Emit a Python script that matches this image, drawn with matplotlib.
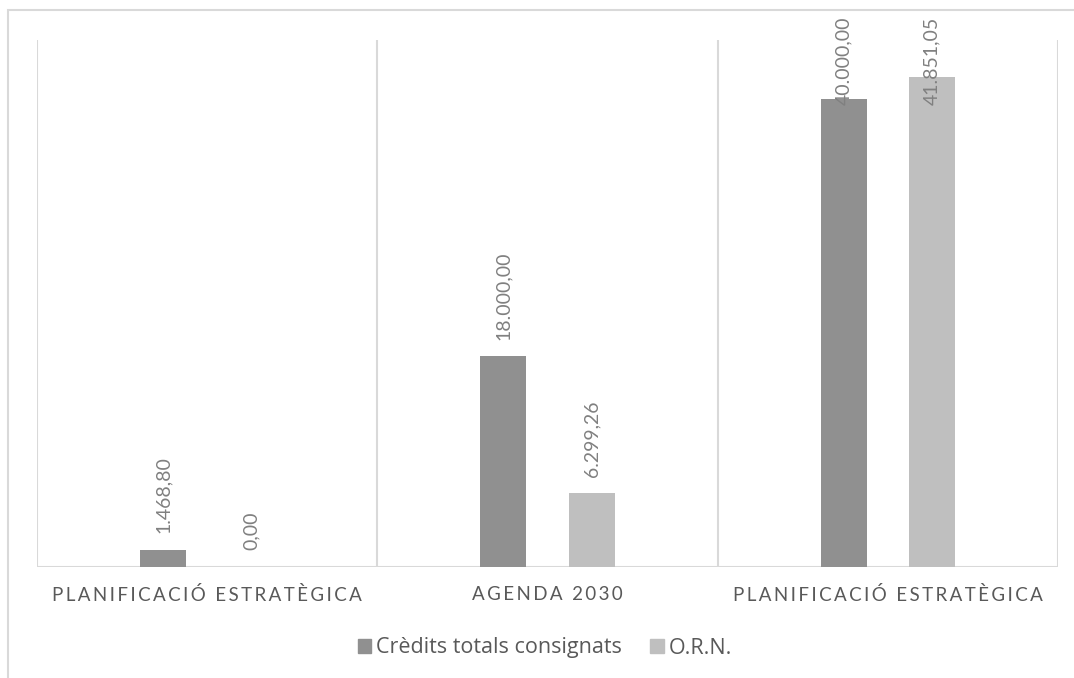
import numpy as np
import matplotlib.pyplot as plt
from matplotlib.patches import Patch, Rectangle

plt.rcParams['font.family'] = ['Lato', 'DejaVu Sans']

# data
categories = ['PLANIFICACIÓ ESTRATÈGICA', 'AGENDA 2030', 'PLANIFICACIÓ ESTRATÈGICA']
series_names = ['Crèdits totals consignats', 'O.R.N.']
credits = [1468.80, 18000.00, 40000.00]
orn = [0.00, 6299.26, 41851.05]

dark = '#909090'
light = '#bfbfbf'
grid_c = '#d9d9d9'
text_c = '#595959'
label_c = '#808080'


def fmt(v):
    # catalan number format: 41.851,05
    s = f'{v:,.2f}'
    return s.replace(',', 'X').replace('.', ',').replace('X', '.')


def spaced(s):
    # emulate the wide letter spacing of the category axis
    return '\u2009'.join(s)


fig = plt.figure(figsize=(10.74, 6.78), dpi=100)
ax = fig.add_axes([37 / 1074, 111 / 678, 1021 / 1074, 527 / 678])

# outer chart border (cut by the crop on right and bottom)
fig.patches.append(Rectangle((8 / 1074, -0.1), 1.2, 0.1 + 668 / 678,
                             transform=fig.transFigure, fill=False,
                             edgecolor=grid_c, linewidth=1.5))

x = np.arange(len(categories))
off = 0.13
w = 0.135
ax.bar(x - off, credits, w, color=dark, zorder=3)
ax.bar(x + off, orn, w, color=light, zorder=3)

ymax = 45000
ax.set_xlim(-0.5, len(categories) - 0.5)
ax.set_ylim(0, ymax)

# vertical separators between categories
for b in np.arange(-0.5, len(categories), 1.0):
    ax.axvline(b, color=grid_c, linewidth=1.5, zorder=1)
ax.axhline(0, color=grid_c, linewidth=1.5, zorder=2)

# data labels, kept inside the chart area like Excel does
cap = 38000
for xs, vals in ((x - off, credits), (x + off, orn)):
    for xi, v in zip(xs, vals):
        ax.annotate(fmt(v), (xi, min(v, cap)), xytext=(0, 12),
                    textcoords='offset points', rotation=90,
                    ha='center', va='bottom', fontsize=14, color=label_c,
                    annotation_clip=False, zorder=4)

for s in ax.spines.values():
    s.set_visible(False)
ax.set_yticks([])
ax.set_xticks(x)
ax.set_xticklabels([spaced(c) for c in categories], fontsize=13.5, color=text_c)
ax.tick_params(axis='x', length=0, pad=14)

handles = [Patch(color=dark), Patch(color=light)]
fig.legend(handles, series_names, loc='center',
           bbox_to_anchor=(545 / 1074, 1 - 648 / 678), ncol=2,
           frameon=False, labelcolor=text_c,
           prop={'family': 'Open Sans', 'size': 15.5},
           handlelength=0.62, handleheight=0.62, handletextpad=0.25,
           columnspacing=1.3)

fig.savefig('out.png', dpi=100)
